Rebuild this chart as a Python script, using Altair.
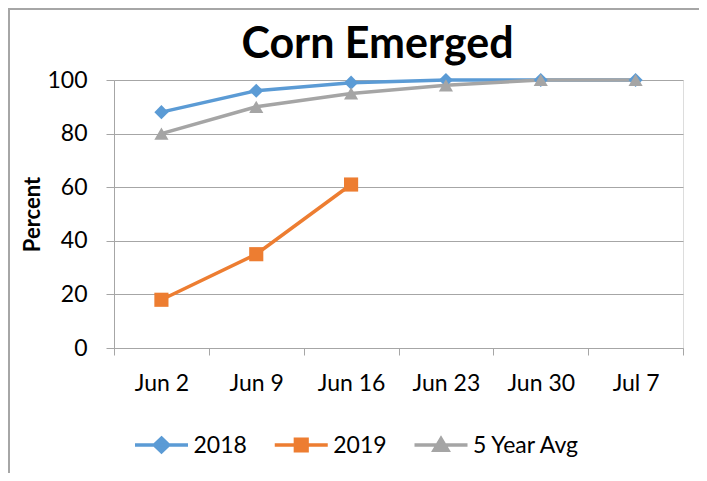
import altair as alt
import pandas as pd

dates = ["Jun 2", "Jun 9", "Jun 16", "Jun 23", "Jun 30", "Jul 7"]
v2018 = [88, 96, 99, 100, 100, 100]
v2019 = [18, 35, 61, None, None, None]
avg5 = [80, 90, 95, 98, 100, 100]
series = ["2018", "2019", "5 Year Avg"]
colors = ["#5B9BD5", "#ED7D31", "#A5A5A5"]
shapes = ["diamond", "square", "triangle-up"]
legend_paths = [
    "M-1,0H1M0,-0.26L0.27,0L0,0.26L-0.27,0Z",
    "M-1,0H1M-0.22,-0.22H0.22V0.22H-0.22Z",
    "M-1,0H1M0,-0.24L0.26,0.2L-0.26,0.2Z",
]

rows = []
for name, vals in zip(series, [v2018, v2019, avg5]):
    for d, v in zip(dates, vals):
        if v is not None:
            rows.append({"date": d, "series": name, "value": v})
df = pd.DataFrame(rows)
legend_df = pd.DataFrame({"series": series})

FONT = "Lato"
GRID = "#A6A6A6"

x = alt.X("date:N", sort=dates, title=None,
          scale=alt.Scale(paddingInner=0, paddingOuter=0),
          axis=alt.Axis(tickBand="extent", tickSize=7, tickColor=GRID, domainColor=GRID,
                        labelFontSize=23, labelColor="#000000", labelAngle=0,
                        labelPadding=17, labelFont=FONT, grid=False))
y = alt.Y("value:Q", title="Percent",
          scale=alt.Scale(domain=[0, 100], nice=False),
          axis=alt.Axis(values=[0, 20, 40, 60, 80, 100], tickSize=8, tickColor=GRID,
                        domainColor=GRID, gridColor=GRID, labelFontSize=23,
                        labelColor="#000000", labelPadding=19, labelFont=FONT,
                        titleFont=FONT, titleFontSize=22, titleFontWeight="bold",
                        titleColor="#000000", titleX=-82, titleY=134, titleAngle=270,
                        titleAlign="center", titleBaseline="middle"))

cscale = alt.Scale(domain=series, range=colors)
color_nolegend = alt.Color("series:N", scale=cscale, legend=None)

base = alt.Chart(df)
lines = base.mark_line(strokeWidth=3.5).encode(x=x, y=y, color=color_nolegend)
point_layers = [
    base.transform_filter(alt.datum.series == s).mark_point(
        filled=True, size=200, opacity=1, shape=sh).encode(x=x, y=y, color=color_nolegend)
    for s, sh in zip(series, shapes)
]

border = alt.Chart(pd.DataFrame({"a": [0]})).mark_rect(
    fill=None, stroke="#A6A6A6", strokeWidth=2).encode(
    x=alt.value(-105), x2=alt.value(586), y=alt.value(-71), y2=alt.value(500))

main = alt.layer(border, lines, *point_layers)

# legend drawn from its own small table through its own scales
lx = alt.X("series:N", sort=series, axis=None, title=None,
           scale=alt.Scale(type="point", domain=series, range=[47.5, 327], padding=0))
leg_base = alt.Chart(legend_df)
leg_symbols = leg_base.mark_point(size=2809, opacity=1, strokeWidth=3.5).encode(
    x=lx, y=alt.value(365),
    fill=alt.Fill("series:N", scale=cscale, legend=None),
    stroke=alt.Stroke("series:N", scale=cscale, legend=None),
    shape=alt.Shape("series:N", scale=alt.Scale(domain=series, range=legend_paths),
                    legend=None),
)
leg_text = leg_base.mark_text(align="left", baseline="middle", dx=32, font=FONT,
                              fontSize=23, color="#000000").encode(
    x=lx, y=alt.value(366), text="series:N")
legend = alt.layer(leg_symbols, leg_text)

chart = alt.layer(main, legend).resolve_scale(x="independent").properties(
    width=569, height=268,
    autosize=alt.AutoSizeParams(type="none"),
    padding={"left": 106, "top": 72, "right": 16, "bottom": 125},
    title=alt.TitleParams("Corn Emerged", font=FONT, fontSize=43, fontWeight="bold",
                          color="#000000", anchor="middle", dx=-21, offset=0, dy=93,
                          baseline="alphabetic"),
).configure_view(stroke=None).configure(font=FONT)

chart.save("out.html", embed_options={"renderer": "svg", "actions": False})
